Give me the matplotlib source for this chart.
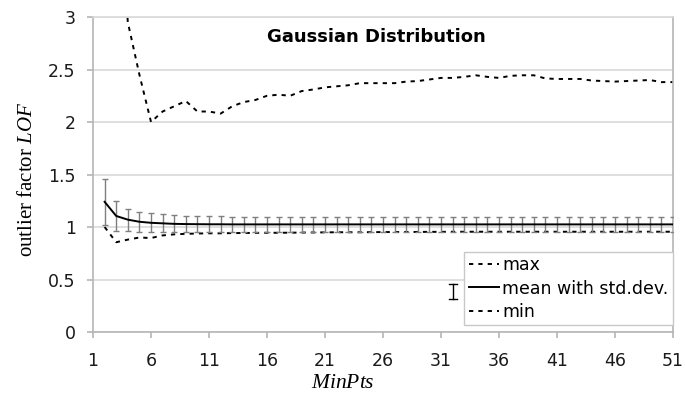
import numpy as np
import matplotlib
matplotlib.use("Agg")
import matplotlib.pyplot as plt

plt.rcParams['font.family'] = ['DejaVu Sans']
plt.rcParams['mathtext.fontset'] = 'custom'
plt.rcParams['mathtext.it'] = 'Liberation Serif:italic'
plt.rcParams['mathtext.rm'] = 'Liberation Serif'

# MinPts values 2..51
minpts = np.arange(2, 52)

# max LOF (first two values run off the top of the chart)
lof_max = [6.0, 4.5, 2.95, 2.45, 2.00, 2.10, 2.15, 2.20, 2.10, 2.10,
           2.08, 2.15, 2.19, 2.21, 2.25, 2.26, 2.25, 2.295, 2.31, 2.33,
           2.34, 2.35, 2.37, 2.37, 2.37, 2.37, 2.385, 2.39, 2.405, 2.42,
           2.42, 2.43, 2.445, 2.43, 2.42, 2.44, 2.445, 2.445, 2.415, 2.41,
           2.41, 2.41, 2.395, 2.39, 2.385, 2.39, 2.395, 2.40, 2.38, 2.38]

lof_mean = [1.24, 1.105, 1.07, 1.05, 1.04, 1.035, 1.03, 1.028, 1.027, 1.026,
            1.026, 1.025, 1.025, 1.025, 1.025, 1.025, 1.025, 1.025, 1.025, 1.025,
            1.025, 1.025, 1.025, 1.025, 1.025, 1.025, 1.025, 1.025, 1.025, 1.025,
            1.025, 1.025, 1.025, 1.025, 1.025, 1.025, 1.025, 1.025, 1.025, 1.025,
            1.025, 1.025, 1.025, 1.025, 1.025, 1.025, 1.025, 1.025, 1.025, 1.025]

lof_std = [0.22, 0.14, 0.105, 0.095, 0.09, 0.085, 0.08, 0.078, 0.076, 0.075,
           0.075, 0.075, 0.074, 0.074, 0.074, 0.074, 0.074, 0.073, 0.073, 0.073,
           0.073, 0.073, 0.073, 0.073, 0.073, 0.073, 0.073, 0.073, 0.073, 0.073,
           0.073, 0.073, 0.073, 0.073, 0.073, 0.073, 0.073, 0.073, 0.073, 0.073,
           0.073, 0.073, 0.073, 0.073, 0.073, 0.073, 0.073, 0.073, 0.073, 0.073]

lof_min = [1.0, 0.855, 0.88, 0.90, 0.895, 0.92, 0.93, 0.935, 0.938, 0.94,
           0.94, 0.942, 0.943, 0.944, 0.945, 0.945, 0.946, 0.947, 0.948, 0.949,
           0.95, 0.95, 0.95, 0.951, 0.952, 0.952, 0.953, 0.953, 0.954, 0.954,
           0.955, 0.955, 0.955, 0.955, 0.955, 0.955, 0.955, 0.955, 0.955, 0.955,
           0.955, 0.955, 0.955, 0.955, 0.955, 0.955, 0.955, 0.955, 0.955, 0.955]

xticks = np.arange(1, 52, 5)
yticks = [0, 0.5, 1, 1.5, 2, 2.5, 3]
ytick_labels = ['0', '0.5', '1', '1.5', '2', '2.5', '3']

fig = plt.figure(figsize=(6.85, 3.93), dpi=100)
ax = fig.add_axes([0.1358, 0.1552, 0.8467, 0.8015])

grid_col = '#d9d9d9'
spine_col = '#b5b5b5'
dash = (0, (2.2, 2.6))

max_line, = ax.plot(minpts, lof_max, color='black', lw=1.4, linestyle=dash)
eb = ax.errorbar(minpts, lof_mean, yerr=lof_std, color='black', lw=1.4,
                 ecolor='#7f7f7f', elinewidth=1.0, capsize=2.3, capthick=1.0,
                 zorder=3)
min_line, = ax.plot(minpts, lof_min, color='black', lw=1.4, linestyle=dash)

ax.set_xlim(1, 51)
ax.set_ylim(0, 3)
ax.set_xticks(xticks)
ax.set_yticks(yticks)
ax.set_yticklabels(ytick_labels)
ax.yaxis.grid(True, color=grid_col, lw=1.2)
ax.set_axisbelow(True)

for s in ['left', 'right', 'bottom']:
    ax.spines[s].set_color(spine_col)
    ax.spines[s].set_linewidth(1.2)
ax.spines['top'].set_color(grid_col)
ax.spines['top'].set_linewidth(1.2)

ax.tick_params(axis='both', colors=spine_col, labelcolor='#1a1a1a',
               labelsize=12.5, length=4.5, width=1.2)
ax.tick_params(axis='x', pad=10)
ax.tick_params(axis='y', pad=8)

ax.text(0.489, 0.937, 'Gaussian Distribution', transform=ax.transAxes,
        ha='center', va='center', fontsize=13, fontweight='bold')

ax.set_ylabel(r'outlier factor $\mathit{LOF}$', family='Liberation Serif',
              fontsize=15)
ax.yaxis.set_label_coords(-0.097, 0.484)
ax.set_xlabel(r'$\mathit{MinPts}$', fontsize=15.5)
ax.xaxis.set_label_coords(0.43, -0.126)

leg = ax.legend([max_line, eb.lines[0], min_line],
                ['max', 'mean with std.dev.', 'min'],
                loc='lower right', bbox_to_anchor=(1.0, 0.022),
                fontsize=12.5, frameon=True, fancybox=False,
                edgecolor='#c8c8c8', framealpha=1, borderpad=0.25,
                labelspacing=0.3, handlelength=1.75, handletextpad=0.2,
                borderaxespad=0)
leg.get_frame().set_linewidth(1.0)

# the std.dev. marker that sits to the left of the legend box
ax.plot([0.613, 0.627], [0.152, 0.152], color='black', lw=1.0, transform=ax.transAxes)
ax.plot([0.613, 0.627], [0.105, 0.105], color='black', lw=1.0, transform=ax.transAxes)
ax.plot([0.62, 0.62], [0.105, 0.152], color='black', lw=1.0, transform=ax.transAxes)

fig.savefig('out.png', dpi=100)
